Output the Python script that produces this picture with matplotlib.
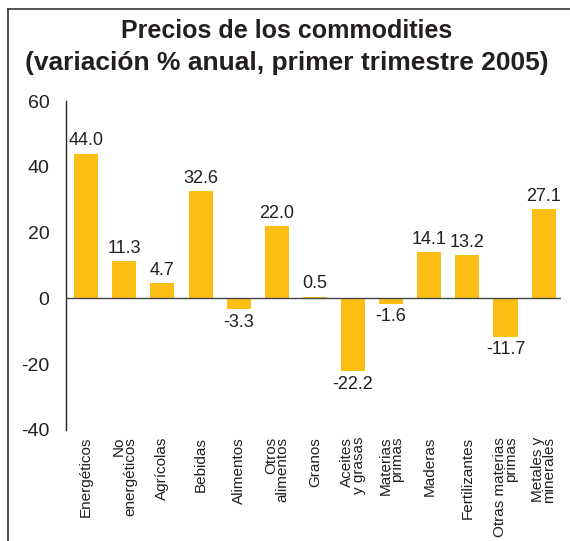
import numpy as np
import matplotlib.pyplot as plt
from matplotlib.lines import Line2D

categories = ['Energéticos', 'No\nenergéticos', 'Agrícolas', 'Bebidas', 'Alimentos',
              'Otros\nalimentos', 'Granos', 'Aceites\ny grasas', 'Materias\nprimas',
              'Maderas', 'Fertilizantes', 'Otras materias\nprimas', 'Metales y\nminerales']
values = [44.0, 11.3, 4.7, 32.6, -3.3, 22.0, 0.5, -22.2, -1.6, 14.1, 13.2, -11.7, 27.1]
yticks = [-40, -20, 0, 20, 40, 60]

plt.rcParams['font.family'] = ['Liberation Sans', 'DejaVu Sans']
bar_color = '#FDBF14'
text_color = '#231F20'

fig = plt.figure(figsize=(5.7, 5.41), dpi=100)
ax = fig.add_axes([0.1158, 0.2052, 0.868, 0.608])

x = np.arange(len(values))
ax.bar(x, values, width=0.63, color=bar_color, zorder=2)
ax.axhline(0, color='#444444', lw=1.0, zorder=3)

for xi, v in zip(x, values):
    if v >= 0:
        ax.text(xi, v + 1.3, f'{v:.1f}', ha='center', va='bottom', fontsize=13, color=text_color)
    else:
        ax.text(xi, v - 1.3, f'{v:.1f}', ha='center', va='top', fontsize=13, color=text_color)

ax.set_xlim(-0.53, 12.45)
ax.set_ylim(-40, 60)
ax.set_yticks(yticks)
ax.set_yticklabels([str(t) for t in yticks], fontsize=14, color=text_color)
ax.set_xticks(x)
ax.set_xticklabels(categories, rotation=90, fontsize=11, color=text_color,
                   ha='center', va='top', multialignment='right', linespacing=0.75)
ax.tick_params(axis='both', length=0)
ax.tick_params(axis='x', pad=5)
ax.tick_params(axis='y', pad=12)
for s in ['top', 'right', 'bottom']:
    ax.spines[s].set_visible(False)
ax.spines['left'].set_color('#222222')
ax.spines['left'].set_linewidth(1.0)

fig.text(0.503, 0.943, 'Precios de los commodities', ha='center', va='center',
         fontsize=18, fontweight='bold', color=text_color)
fig.text(0.503, 0.884, '(variación % anual, primer trimestre 2005)', ha='center', va='center',
         fontsize=19, fontweight='bold', color=text_color)

# outer frame
fig.add_artist(Line2D([8 / 570, 8 / 570], [0, 1 - 9 / 541], transform=fig.transFigure,
                      color='#333333', lw=1.2))
fig.add_artist(Line2D([8 / 570, 1], [1 - 9 / 541, 1 - 9 / 541], transform=fig.transFigure,
                      color='#333333', lw=1.2))

fig.savefig('out.png', dpi=100)
